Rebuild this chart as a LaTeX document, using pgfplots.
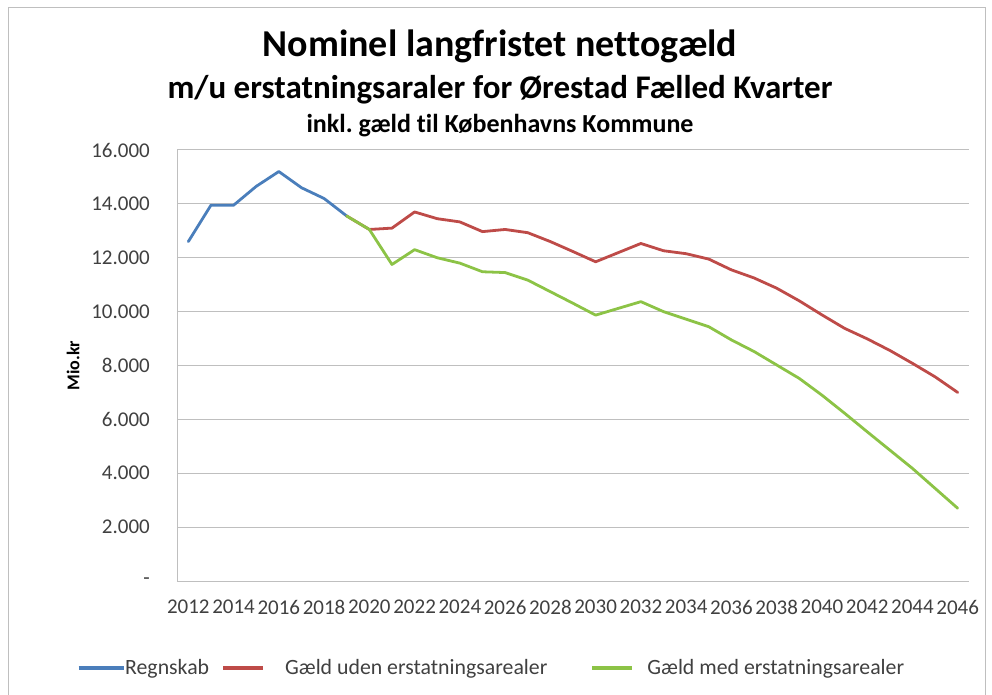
\documentclass[border=0pt]{standalone}
\usepackage{fontspec}
\setmainfont{Carlito}[Ligatures=NoCommon]
\usepackage{pgfplots}
\pgfplotsset{compat=1.18}
\definecolor{cblue}{HTML}{4A7EBB}
\definecolor{cred}{HTML}{BE4B48}
\definecolor{cgreen}{HTML}{8CC346}
\definecolor{cgrid}{HTML}{BFBFBF}
\definecolor{ctext}{HTML}{404040}
\frenchspacing
\begin{document}
\begin{tikzpicture}[x=1pt,y=1pt]
\useasboundingbox (0,0) rectangle (992,694);
\draw[cgrid, line width=1pt] (8,-10) -- (8,686) -- (985,686) -- (985,-10);
\node[anchor=base, font=\bfseries\fontsize{38}{42}\selectfont] at (500,637) {Nominel langfristet nettogæld};
\node[anchor=base, font=\bfseries\fontsize{33}{37}\selectfont] at (500,595) {m/u erstatningsaraler for Ørestad Fælled Kvarter};
\node[anchor=base, font=\bfseries\fontsize{26}{30}\selectfont] at (500,561) {inkl. gæld til Københavns Kommune};
\begin{axis}[
  at={(177pt,113pt)}, anchor=south west,
  scale only axis, width=792pt, height=431pt,
  xmin=2011.5, xmax=2046.5, ymin=0, ymax=16000,
  scaled y ticks=false, scaled x ticks=false,
  axis lines*=left,
  axis line style={cgrid, line width=1pt},
  ymajorgrids, major grid style={cgrid, line width=1pt},
  xtick={2012,2014,...,2046},
  xticklabels={2012,2014,2016,2018,2020,2022,2024,2026,2028,2030,2032,2034,2036,2038,2040,2042,2044,2046},
  ytick={0,2000,...,16000},
  yticklabels={-\hspace{8pt},2.000,4.000,6.000,8.000,10.000,12.000,14.000,16.000},
  major tick length=0pt,
  tick label style={font=\fontsize{21}{25}\selectfont, inner sep=0pt, text=ctext},
  x tick label style={anchor=north, yshift=-19pt},
  y tick label style={anchor=east, xshift=-27pt},
  ylabel={Mio.kr},
  ylabel style={at={(axis description cs:-0.1313,0.5)}, anchor=center, font=\bfseries\fontsize{18}{21}\selectfont},
  legend columns=3,
  legend style={at={(-0.1263,-0.2019)}, anchor=west, draw=none, fill=none, inner sep=0pt, outer sep=0pt,
    nodes={inner sep=0pt, font=\fontsize{21.8}{25}\selectfont, text=ctext}, column sep=0pt},
  every axis plot/.append style={line width=2.8pt, line join=round, line cap=round},
]
\addplot[cblue, legend image code/.code={\path[draw=none] (0pt,0pt) -- (46pt,0pt); \draw[cblue, line width=3.2pt, line cap=butt] (0pt,0pt) -- (45pt,0pt);}] coordinates {
(2012,12600)(2013,13950)(2014,13950)(2015,14650)(2016,15200)(2017,14600)(2018,14200)(2019,13550)};
\addlegendentry{Regnskab}
\addplot[cred, legend image code/.code={\path[draw=none] (0pt,0pt) -- (76pt,0pt); \draw[cred, line width=3.2pt, line cap=butt] (14pt,0pt) -- (54pt,0pt);}] coordinates {
(2019,13550)(2020,13050)(2021,13100)(2022,13700)(2023,13450)(2024,13330)(2025,12970)(2026,13050)(2027,12930)(2028,12600)(2029,12230)(2030,11850)(2031,12190)(2032,12530)(2033,12260)(2034,12150)(2035,11950)(2036,11550)(2037,11250)(2038,10870)(2039,10400)(2040,9880)(2041,9380)(2042,8990)(2043,8560)(2044,8080)(2045,7580)(2046,7000)};
\addlegendentry{Gæld uden erstatningsarealer}
\addplot[cgreen, legend image code/.code={\path[draw=none] (0pt,0pt) -- (100pt,0pt); \draw[cgreen, line width=3.2pt, line cap=butt] (45pt,0pt) -- (85pt,0pt);}] coordinates {
(2019,13550)(2020,13050)(2021,11750)(2022,12300)(2023,12000)(2024,11800)(2025,11480)(2026,11450)(2027,11170)(2028,10740)(2029,10310)(2030,9870)(2031,10120)(2032,10370)(2033,10000)(2034,9720)(2035,9440)(2036,8950)(2037,8520)(2038,8020)(2039,7520)(2040,6900)(2041,6230)(2042,5540)(2043,4860)(2044,4180)(2045,3440)(2046,2700)};
\addlegendentry{Gæld med erstatningsarealer}
\end{axis}
\end{tikzpicture}
\end{document}
